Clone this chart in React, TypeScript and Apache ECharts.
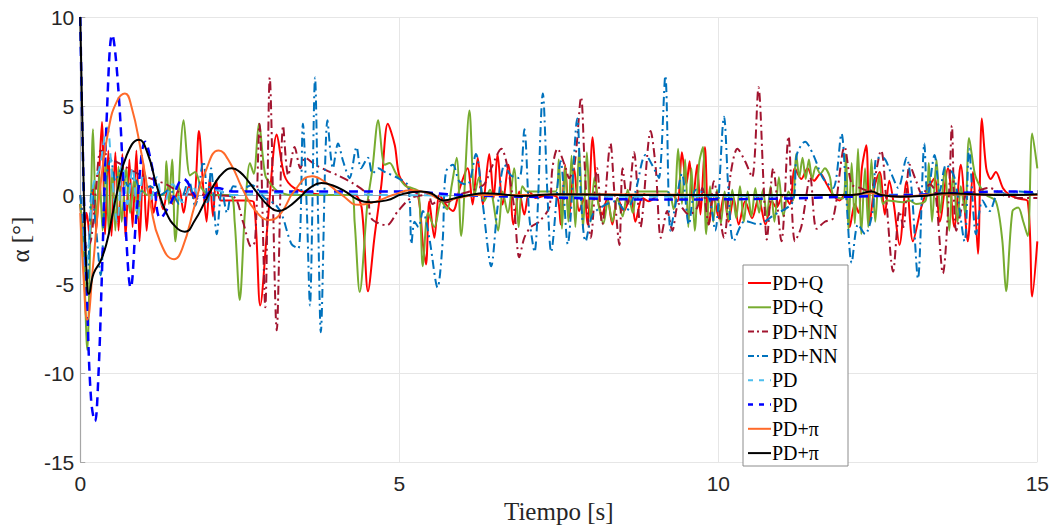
import React, { useEffect, useRef } from "react";
import * as echarts from "echarts";

// ---- data: [time (s), alpha (deg)] ----
const pdQRed: [number, number][] = [
  [0, -0.5], [0.05, -2.2], [0.1, -1.0], [0.15, -2.4], [0.2, 0.5], [0.25, -2.0], [0.3, 1.5], [0.34, 4.1],
  [0.39, -2.2], [0.44, 2.5], [0.49, -2.3], [0.55, 2.4], [0.6, -2.0], [0.66, 2.3], [0.71, -2.4], [0.77, 2.0],
  [0.82, -1.8], [0.88, 2.5], [0.93, -2.6], [0.99, 1.8], [1.04, -2.0], [1.1, 0.5], [1.15, -1.0], [1.22, 0.2],
  [1.3, -0.8], [1.38, 0.5], [1.45, -0.5], [1.55, 0.4], [1.62, -1.0], [1.7, 0.5], [1.78, -0.2], [1.86, 3.6],
  [1.93, 0.3], [1.98, -1.5], [2.03, 1.0], [2.08, -1.2], [2.13, 0.8], [2.2, -0.3], [2.4, -0.3], [2.6, -0.3],
  [2.72, -0.4], [2.82, -6.2], [2.95, -1.0], [3.08, 3.4], [3.2, 1.1], [3.35, 0.4], [3.6, 0.1], [4.0, 0.0],
  [4.3, 0.0], [4.41, -0.7], [4.51, -5.4], [4.61, -2.4], [4.72, 0.6], [4.82, 4.0], [4.93, 2.8], [5.0, 1.1],
  [5.14, 0.4], [5.29, 0.02], [5.37, -2.75], [5.42, -3.9], [5.47, -0.35], [5.55, -2.4], [5.63, 0.0], [5.73, -0.53],
  [5.84, -0.9], [5.95, 0.4], [6.07, 1.5], [6.15, -0.53], [6.23, 2.1], [6.31, -0.53], [6.41, 2.3], [6.48, -0.16],
  [6.54, 2.3], [6.62, -0.53], [6.71, 1.7], [6.79, -1.65], [6.88, 0.2], [6.96, -1.1], [7.04, 0.2], [7.14, -0.16],
  [7.35, 0.02], [7.48, -0.16], [7.53, -1.65], [7.6, 1.7], [7.66, -1.3], [7.74, 1.5], [7.82, -0.9], [7.9, -0.16],
  [7.95, -1.65], [8.03, 3.25], [8.1, 0.0], [8.18, -1.1], [8.26, -0.16], [8.34, -1.65], [8.42, -0.16], [8.52, -0.9],
  [8.63, 0.0], [8.7, -1.5], [8.81, -0.16], [8.91, -0.35], [9.07, 0.0], [9.28, 0.0], [9.36, -0.35], [9.43, 2.4],
  [9.5, 0.6], [9.55, 1.9], [9.6, -0.35], [9.67, 1.7], [9.72, -1.1], [9.79, 2.7], [9.85, -1.65], [9.93, -0.16],
  [10.01, -1.3], [10.09, 0.0], [10.16, -1.5], [10.24, -0.16], [10.32, -1.65], [10.42, -0.35], [10.53, -1.3], [10.63, -0.16],
  [10.74, -1.65], [10.84, -0.35], [10.91, -0.7], [11.02, 0.02], [11.12, -0.5], [11.2, 1.5], [11.3, 0.9], [11.4, 1.5],
  [11.5, 0.8], [11.6, 1.2], [11.7, 0.6], [11.8, 0.0], [11.9, -0.3], [12.0, 0.2], [12.06, -1.8], [12.14, -0.5],
  [12.2, -1.0], [12.25, 1.5], [12.32, 2.8], [12.37, -1.65], [12.45, 0.5], [12.53, 1.3], [12.61, -1.1], [12.68, 0.8],
  [12.75, -0.5], [12.84, -2.8], [12.95, 0.77], [13.05, -2.6], [13.18, -0.7], [13.28, 0.3], [13.39, 0.95], [13.47, -1.5],
  [13.6, 1.5], [13.7, -1.8], [13.8, 1.7], [13.91, -2.6], [13.99, 1.3], [14.07, -3.3], [14.13, 4.3], [14.2, 1.5],
  [14.27, 0.9], [14.35, 1.3], [14.46, 0.4], [14.56, 0.02], [14.7, -0.2], [14.85, -0.35], [14.92, -5.7], [15.0, -2.6],
];

const pdQGreen: [number, number][] = [
  [0, -0.5], [0.05, -3.0], [0.11, -8.7], [0.16, -2.0], [0.2, 3.7], [0.25, -1.5], [0.3, 1.2], [0.35, -2.0],
  [0.4, 2.0], [0.45, -2.2], [0.5, 1.5], [0.55, -2.0], [0.6, 1.6], [0.65, -1.5], [0.72, 1.5], [0.78, -1.0],
  [0.85, 1.0], [0.9, -1.3], [0.96, 0.3], [1.05, 0.0], [1.3, 0.0], [1.35, 1.9], [1.39, -0.5], [1.44, 2.0],
  [1.49, -2.6], [1.62, 4.2], [1.72, 1.1], [1.8, 1.3], [1.9, 0.4], [2.04, 0.0], [2.35, 0.0], [2.42, -1.5],
  [2.5, -5.9], [2.58, -1.0], [2.66, 1.8], [2.72, 1.2], [2.8, 4.0], [2.9, 1.1], [3.0, 0.55], [3.1, 0.2],
  [3.3, 0.0], [4.25, 0.0], [4.3, -1.5], [4.38, -5.45], [4.5, -0.5], [4.58, 1.5], [4.67, 4.2], [4.77, 1.7],
  [4.85, 1.8], [4.95, 1.2], [5.1, 0.5], [5.19, 0.4], [5.3, 0.2], [5.37, -4.0], [5.45, -1.0], [5.55, -1.8],
  [5.66, -0.35], [5.75, -0.8], [5.82, 0.5], [5.9, 2.1], [5.97, -2.3], [6.1, 4.75], [6.18, 0.0], [6.25, 1.0],
  [6.33, -0.35], [6.42, 0.3], [6.55, -2.0], [6.62, 0.2], [6.7, -1.0], [6.8, 1.5], [6.87, -1.8], [6.93, 0.5],
  [7.0, 0.2], [7.45, 0.2], [7.5, 2.0], [7.55, -1.9], [7.6, 1.6], [7.65, -1.5], [7.7, 2.2], [7.76, -1.8],
  [7.82, 2.6], [7.88, -1.9], [7.94, 2.4], [8.0, -1.5], [8.06, 1.0], [8.12, -0.5], [8.2, -1.6], [8.27, -0.3],
  [8.34, -1.5], [8.42, -0.2], [8.5, -1.2], [8.58, 0.3], [8.66, -1.0], [8.75, 0.2], [9.2, 0.2], [9.3, -0.8],
  [9.37, 2.6], [9.43, -0.5], [9.48, 2.0], [9.53, -1.8], [9.58, 1.5], [9.63, -2.0], [9.7, 1.8], [9.76, 2.7],
  [9.81, -2.2], [9.87, 0.5], [9.92, -1.5], [9.98, 0.3], [10.04, -1.6], [10.1, 0.2], [10.16, -1.4], [10.22, 0.3],
  [10.28, -1.3], [10.34, 0.5], [10.4, -1.5], [10.46, 0.2], [10.52, -1.2], [10.58, 0.4], [10.64, -1.0], [10.7, 0.3],
  [10.76, -1.2], [10.82, 0.5], [10.88, -1.5], [10.95, 1.0], [11.02, -1.2], [11.1, 0.2], [11.17, -0.3], [11.22, 2.3],
  [11.27, 1.0], [11.32, 2.1], [11.37, 0.9], [11.42, 2.0], [11.47, 0.9], [11.53, 1.6], [11.6, 1.2], [11.67, 1.5],
  [11.75, 1.0], [11.8, 0.0], [11.95, -0.2], [12.0, 2.3], [12.04, -2.0], [12.09, 1.8], [12.14, -1.6], [12.19, 2.6],
  [12.24, -2.2], [12.3, 1.5], [12.35, -1.8], [12.4, 2.0], [12.46, -1.5], [12.52, 1.2], [12.58, -0.5], [12.65, -0.3],
  [12.9, -0.4], [13.0, -0.3], [13.1, -0.5], [13.25, -0.3], [13.3, 1.8], [13.35, -1.5], [13.42, 2.0], [13.48, -1.0],
  [13.55, 1.5], [13.62, -2.0], [13.68, 1.2], [13.75, -1.5], [13.8, 0.5], [13.87, -1.0], [13.93, 3.2], [14.02, 1.2],
  [14.1, 0.5], [14.2, 0.0], [14.35, -0.35], [14.45, -2.5], [14.51, -5.4], [14.61, -0.9], [14.7, -0.7], [14.78, -1.5],
  [14.85, -2.3], [14.92, 3.45], [15.0, 1.5],
];

const pdNNDarkRed: [number, number][] = [
  [0, 0], [0.05, -1.5], [0.1, -3.0], [0.17, -2.5], [0.25, 0.5], [0.32, 2.5], [0.4, 2.3], [0.5, 2.0],
  [0.6, 1.8], [0.75, 1.5], [0.9, 1.2], [1.05, 1.0], [1.2, 0.8], [1.35, 0.6], [1.6, 0.1], [2.0, 0.0],
  [2.4, -0.1], [2.55, -1.5], [2.68, -2.9], [2.74, -2.6], [2.81, 4.0], [2.9, -6.3], [2.97, 6.6], [3.08, -7.6],
  [3.18, 3.9], [3.26, 1.1], [3.36, 2.7], [3.45, 1.5], [3.52, 2.1], [3.68, 1.7], [3.85, 1.4], [4.04, 1.1],
  [4.3, 0.6], [4.5, 0.0], [4.56, -1.3], [4.8, -1.7], [4.98, -0.9], [5.19, -0.16], [5.45, 0.0], [5.52, -0.5],
  [5.6, -0.35], [5.75, -0.4], [5.92, 0.0], [6.1, 0.2], [6.33, 0.6], [6.44, 1.5], [6.6, 2.6], [6.7, 1.5],
  [6.8, -0.7], [6.88, -3.5], [6.96, -2.4], [7.06, -1.8], [7.19, -1.5], [7.35, -0.7], [7.4, 1.5], [7.48, 2.6],
  [7.61, 1.5], [7.66, 0.95], [7.75, 1.8], [7.85, 5.5], [7.9, 2.1], [7.95, -1.1], [8.0, -2.4], [8.1, 1.5],
  [8.18, -1.65], [8.31, 2.9], [8.37, 0.2], [8.45, -2.8], [8.5, 1.5], [8.58, -0.5], [8.68, 2.4], [8.78, -1.8],
  [8.94, 3.6], [9.02, 1.5], [9.1, -2.4], [9.2, -0.9], [9.28, -2.0], [9.38, -0.5], [9.54, -1.1], [9.67, -0.7],
  [9.75, 0.4], [9.85, -1.65], [9.93, 0.77], [10.09, -2.4], [10.19, 1.1], [10.3, 2.6], [10.42, 1.9], [10.53, 1.0],
  [10.63, 6.05], [10.71, 0.58], [10.76, -2.5], [10.86, 1.5], [10.99, -2.6], [11.1, 3.3], [11.2, -2.6], [11.3, -1.8],
  [11.44, 1.0], [11.54, -1.9], [11.67, -1.5], [11.8, -1.3], [11.98, 2.7], [12.09, 0.6], [12.22, 0.4], [12.37, 0.2],
  [12.55, 2.5], [12.63, -0.16], [12.74, -4.3], [12.84, -0.9], [12.9, -1.8], [13.0, 1.7], [13.1, 0.8], [13.2, 0.0],
  [13.31, 0.6], [13.4, 0.2], [13.52, -4.4], [13.62, 0.4], [13.66, 3.9], [13.73, -2.0], [13.88, 0.0], [14.04, 0.2],
  [14.25, 0.4], [14.46, 0.0], [14.72, -0.16], [15.0, -0.16],
];

const pdNNBlue: [number, number][] = [
  [0, 0], [0.05, -2.0], [0.11, -5.0], [0.18, 0.3], [0.25, -2.0], [0.32, -4.5], [0.4, 0.8], [0.48, 2.0],
  [0.55, 0.8], [0.65, 1.5], [0.75, 0.5], [0.85, 1.0], [0.95, 0.2], [1.1, 0.5], [1.25, 0.0], [1.4, 0.3],
  [1.55, -0.5], [1.7, 0.8], [1.8, -0.6], [1.93, 1.9], [2.0, -0.5], [2.05, 1.5], [2.14, -2.2], [2.22, 0.3],
  [2.3, -1.0], [2.4, 0.5], [2.55, 0.4], [2.69, 0.55], [2.9, -0.2], [3.05, -0.5], [3.16, -1.1], [3.31, -2.75],
  [3.42, -3.0], [3.49, 4.0], [3.55, -0.7], [3.6, -6.2], [3.68, 6.6], [3.73, -1.65], [3.77, -7.7], [3.875, 4.2],
  [3.96, 1.5], [4.04, 2.9], [4.12, 1.9], [4.22, 0.95], [4.33, 2.7], [4.4, 1.5], [4.51, 2.1], [4.58, 1.2],
  [4.67, 1.5], [4.77, 1.3], [4.98, 0.95], [5.14, 0.5], [5.19, -2.75], [5.24, -1.5], [5.3, -1.8], [5.37, -0.9],
  [5.47, -2.4], [5.6, -5.2], [5.68, -2.6], [5.73, 1.3], [5.84, 1.7], [5.94, 0.77], [6.07, 0.58], [6.2, 2.3],
  [6.31, -0.53], [6.44, -4.0], [6.54, -0.7], [6.65, 1.7], [6.75, 1.1], [6.88, 0.95], [6.96, 3.7], [7.04, -1.3],
  [7.12, -3.2], [7.25, 5.7], [7.32, 0.2], [7.38, -3.2], [7.53, 1.9], [7.64, -2.75], [7.79, 4.3], [7.85, -0.35],
  [7.92, -2.6], [8.03, -1.1], [8.24, -0.53], [8.39, -0.35], [8.55, -0.9], [8.7, 0.2], [8.86, 2.25], [9.02, 1.3],
  [9.07, 0.95], [9.17, 6.7], [9.25, -2.0], [9.33, -0.53], [9.43, 1.2], [9.54, -1.65], [9.65, 0.3], [9.85, -0.16],
  [9.95, -2.0], [10.09, 4.4], [10.16, 0.2], [10.24, -2.6], [10.42, -1.45], [10.63, -1.65], [10.84, -1.2], [11.17, -0.35],
  [11.23, 2.25], [11.36, 3.0], [11.49, 2.25], [11.64, 0.95], [11.8, 0.4], [11.93, 3.45], [12.01, -0.35], [12.09, -3.8],
  [12.19, -1.65], [12.3, -2.2], [12.42, -0.9], [12.48, 2.1], [12.58, 2.1], [12.7, 1.3], [12.82, 0.4], [12.95, 2.1],
  [13.03, 0.3], [13.13, -4.7], [13.23, 2.9], [13.28, -0.16], [13.39, 2.25], [13.47, 0.2], [13.57, 1.7], [13.7, 1.0],
  [13.86, -2.6], [13.93, 2.6], [14.04, -2.2], [14.14, -0.3], [14.25, -0.9], [14.4, 0.2], [14.55, 0.0], [14.72, 0.2],
  [15.0, 0.02],
];

const pdLightBlue: [number, number][] = [
  [0, 10], [0.04, 2.0], [0.08, -4.5], [0.14, -2.5], [0.2, 0.5], [0.3, 1.5], [0.42, 3.8], [0.5, 1.0],
  [0.58, -1.5], [0.66, 1.8], [0.74, -0.5], [0.82, 1.5], [0.9, -1.2], [1.0, 1.3], [1.1, -0.3], [1.2, 1.0],
  [1.3, -0.6], [1.45, 0.6], [1.6, -0.4], [1.75, 0.5], [1.9, -0.2], [2.1, 0.3], [2.4, 0.0], [3.0, 0.1],
  [5.0, 0.0], [8.0, -0.1], [12.0, 0.0], [15.0, 0.1],
];

const pdBlue: [number, number][] = [
  [0, 10], [0.05, 1.0], [0.11, -6.3], [0.17, -11.5], [0.23, -12.7], [0.28, -10.5], [0.34, -4.4], [0.42, 4.8],
  [0.5, 9.0], [0.6, 5.8], [0.71, -1.7], [0.79, -5.2], [0.89, -0.7], [1.02, 3.0], [1.13, 1.5], [1.26, -1.3],
  [1.41, -0.5], [1.62, 0.9], [1.88, -0.26], [2.14, 0.4], [2.4, 0.2], [3.0, 0.2], [5.0, 0.2], [6.0, 0.0],
  [7.0, -0.1], [9.0, -0.25], [11.0, -0.2], [12.0, -0.1], [13.0, 0.0], [14.0, 0.15], [14.5, 0.2], [15.0, 0.15],
];

const pdPiOrange: [number, number][] = [
  [0, -1.0], [0.05, -4.5], [0.11, -7.0], [0.2, -4.0], [0.3, 0.0], [0.45, 3.8], [0.58, 5.3], [0.7, 5.7],
  [0.8, 5.0], [0.95, 2.5], [1.1, -0.5], [1.25, -2.6], [1.47, -3.6], [1.6, -3.0], [1.8, -0.5], [1.95, 1.2],
  [2.17, 2.5], [2.35, 1.8], [2.55, 0.3], [2.75, -0.9], [2.97, -1.4], [3.15, -1.0], [3.35, 0.2], [3.63, 1.05],
  [3.85, 0.7], [4.1, 0.0], [4.37, -0.55], [4.6, -0.4], [4.9, 0.0], [5.19, 0.27], [5.45, 0.1], [5.7, -0.3],
  [5.95, -0.15], [6.2, 0.0], [7.0, 0.0], [8.0, 0.05], [10.0, 0.0], [12.0, 0.0], [12.4, 0.1], [12.8, -0.1],
  [13.5, 0.05], [15.0, 0.0],
];

const pdPiBlack: [number, number][] = [
  [0, 10], [0.05, 1.0], [0.1, -4.5], [0.135, -5.55], [0.21, -4.4], [0.32, -3.7], [0.42, -2.6], [0.5, -1.2],
  [0.58, 0.2], [0.73, 2.25], [0.92, 3.1], [1.05, 2.4], [1.2, 0.5], [1.35, -1.0], [1.5, -1.8], [1.64, -2.06],
  [1.8, -1.4], [1.95, -0.4], [2.1, 0.6], [2.25, 1.3], [2.375, 1.5], [2.5, 1.3], [2.65, 0.7], [2.8, 0.0],
  [2.95, -0.6], [3.1, -0.9], [3.25, -0.7], [3.45, -0.1], [3.6, 0.4], [3.78, 0.67], [3.95, 0.55], [4.15, 0.2],
  [4.35, -0.25], [4.56, -0.4], [4.8, -0.3], [5.05, 0.05], [5.34, 0.2], [5.5, 0.1], [5.7, -0.3], [5.9, -0.15],
  [6.1, 0.0], [6.33, 0.1], [6.6, 0.05], [6.9, -0.05], [7.5, 0.05], [8.5, 0.0], [10.0, 0.0], [12.0, 0.0],
  [12.2, 0.05], [12.4, 0.2], [12.55, 0.0], [12.85, -0.1], [13.2, -0.05], [13.6, 0.1], [14.0, 0.05], [14.5, 0.0],
  [15.0, 0.05],
];

const legendLabels = ["PD+Q", "PD+Q", "PD+NN", "PD+NN", "PD", "PD", "PD+π", "PD+π"];
const xTicks = [0, 5, 10, 15];
const yTicks = [-15, -10, -5, 0, 5, 10];

const DASH = [9, 6];
const DASHDOT = [9, 4, 2, 4];

const seriesDefs = [
  { data: pdQRed, color: "#ff0000", dash: null as number[] | null, width: 2, smooth: 0.3 },
  { data: pdQGreen, color: "#77ac30", dash: null, width: 2, smooth: 0.3 },
  { data: pdNNDarkRed, color: "#a2142f", dash: DASHDOT, width: 2, smooth: 0.3 },
  { data: pdNNBlue, color: "#0072bd", dash: DASHDOT, width: 2, smooth: 0.3 },
  { data: pdLightBlue, color: "#4dbeee", dash: DASH, width: 2, smooth: 0.4 },
  { data: pdBlue, color: "#0000ff", dash: DASH, width: 2.5, smooth: 0.4 },
  { data: pdPiOrange, color: "#ff6a2a", dash: null, width: 2, smooth: 0.5 },
  { data: pdPiBlack, color: "#000000", dash: null, width: 2, smooth: 0.5 },
];

const SERIF = "'Liberation Serif', 'DejaVu Serif', 'Times New Roman', Times, serif";
const SANS = "'Liberation Sans', Arial, Helvetica, sans-serif";

export default function App() {
  const ref = useRef<HTMLDivElement>(null);
  useEffect(() => {
    document.body.style.margin = "0";
    if (!ref.current) return;
    const chart = echarts.init(ref.current, undefined, { renderer: "svg" });

    const legX = 743, legY = 265, legW = 105, legH = 201;
    const rowY0 = 283, rowStep = 24.3;
    const legendGraphics: any[] = [
      {
        type: "rect",
        shape: { x: legX, y: legY, width: legW, height: legH },
        style: { fill: "#ffffff", stroke: "#8c8c8c", lineWidth: 1 },
        z: 100,
      },
    ];
    seriesDefs.forEach((s, i) => {
      const y = rowY0 + i * rowStep;
      legendGraphics.push({
        type: "line",
        shape: { x1: 748, y1: y, x2: 771, y2: y },
        style: {
          stroke: s.color,
          lineWidth: s.width,
          lineDash: s.dash ? (s.dash === DASH ? [5, 6] : [6, 3, 2, 3]) : null,
        },
        z: 101,
      });
      legendGraphics.push({
        type: "text",
        x: 772,
        y: y,
        style: {
          text: legendLabels[i],
          fill: "#000000",
          fontFamily: SERIF,
          fontSize: 20,
          textAlign: "left",
          textVerticalAlign: "middle",
          align: "left",
          verticalAlign: "middle",
        },
        z: 101,
      });
    });

    chart.setOption({
      animation: false,
      backgroundColor: "#ffffff",
      grid: { left: 78, right: 14, top: 17, bottom: 61, containLabel: false },
      xAxis: {
        type: "value",
        min: xTicks[0],
        max: xTicks[xTicks.length - 1],
        interval: 5,
        name: "Tiempo [s]",
        nameLocation: "middle",
        nameGap: 34,
        nameTextStyle: { fontFamily: SERIF, fontSize: 25, color: "#262626" },
        axisLine: { show: true, lineStyle: { color: "#a6a6a6", width: 1.2 } },
        axisTick: { show: true, inside: true, length: 5, lineStyle: { color: "#a6a6a6" } },
        axisLabel: { fontFamily: SANS, fontSize: 21, color: "#262626", margin: 11 },
        splitLine: { show: true, lineStyle: { color: "#e6e6e6", width: 1 } },
      },
      yAxis: {
        type: "value",
        min: yTicks[0],
        max: yTicks[yTicks.length - 1],
        interval: 5,
        name: "α [°]",
        nameLocation: "middle",
        nameGap: 46,
        nameTextStyle: { fontFamily: SERIF, fontSize: 25, color: "#262626" },
        axisLine: { show: true, lineStyle: { color: "#a6a6a6", width: 1.2 } },
        axisTick: { show: true, inside: true, length: 5, lineStyle: { color: "#a6a6a6" } },
        axisLabel: { fontFamily: SANS, fontSize: 21, color: "#262626", margin: 6 },
        splitLine: { show: true, lineStyle: { color: "#e6e6e6", width: 1 } },
      },
      series: seriesDefs.map((s, i) => ({
        type: "line",
        name: legendLabels[i] + "_" + i,
        data: s.data,
        showSymbol: false,
        symbol: "none",
        smooth: s.smooth,
        clip: true,
        lineStyle: {
          color: s.color,
          width: s.width,
          type: s.dash ? s.dash : "solid",
          cap: "butt",
        },
        z: 2 + i,
      })),
      graphic: legendGraphics,
    });

    return () => chart.dispose();
  }, []);
  return <div ref={ref} style={{ width: 1052, height: 529 }} />;
}
